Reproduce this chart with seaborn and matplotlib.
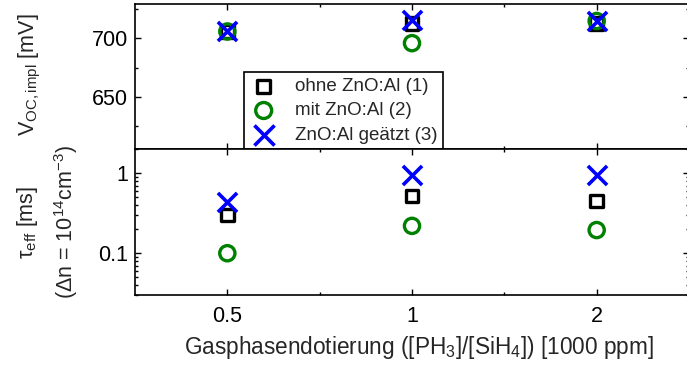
import numpy as np
import pandas as pd
import matplotlib
matplotlib.use("Agg")
import matplotlib.pyplot as plt
from matplotlib.ticker import FixedLocator, LogLocator, MultipleLocator, NullFormatter, FixedFormatter
import seaborn as sns

# Gas-phase doping [PH3]/[SiH4] in units of 1000 ppm
doping = [0.5, 1, 2]
dot_labels = ["0.5", "1", "2"]

series_names = ["ohne ZnO:Al (1)", "mit ZnO:Al (2)", "ZnO:Al geätzt (3)"]

# Implied open-circuit voltage [mV]
voc_ohne = [706, 713, 713]
voc_mit = [706, 696, 715]
voc_geaetzt = [706, 716, 715]

# Effective lifetime [ms] at Δn = 1e14 cm^-3
tau_ohne = [0.30, 0.52, 0.45]
tau_mit = [0.10, 0.22, 0.195]
tau_geaetzt = [0.44, 0.95, 0.95]

sns.set_theme(style="ticks")
plt.rcParams["font.family"] = ["Liberation Sans", "DejaVu Sans"]
plt.rcParams["mathtext.fontset"] = "custom"
plt.rcParams["mathtext.rm"] = "Liberation Sans"
plt.rcParams["mathtext.it"] = "Liberation Sans"
plt.rcParams["mathtext.default"] = "regular"

fig = plt.figure(figsize=(6.87, 3.65), dpi=100)
W, H = 687.0, 365.0
left, right = 135 / W, 689 / W
top_y, mid_y, bot_y = 1 - 3.5 / H, 1 - 149.3 / H, 1 - 295 / H
ax1 = fig.add_axes([left, mid_y, right - left, top_y - mid_y])
ax2 = fig.add_axes([left, bot_y, right - left, mid_y - bot_y])

styles = [
    dict(marker="s", color="black", s=80, lw=2.4),
    dict(marker="o", color="#008000", s=120, lw=2.4),
    dict(marker="x", color="#0000ff", s=190, lw=2.6),
]

def draw(ax, values):
    for name, vals, st in zip(series_names, values, styles):
        df = pd.DataFrame({"x": doping, "y": vals})
        if st["marker"] == "x":
            sns.scatterplot(data=df, x="x", y="y", ax=ax, marker="x", s=st["s"],
                            color=st["color"], linewidth=st["lw"], label=name,
                            legend=False, zorder=3)
        else:
            sns.scatterplot(data=df, x="x", y="y", ax=ax, marker=st["marker"], s=st["s"],
                            facecolor="none", edgecolor=st["color"], linewidth=st["lw"],
                            label=name, legend=False, zorder=3)

draw(ax1, [voc_ohne, voc_mit, voc_geaetzt])
draw(ax2, [tau_ohne, tau_mit, tau_geaetzt])

fs = 15.5
for ax in (ax1, ax2):
    ax.set_xscale("log", base=2)
    ax.set_xlim(0.5 / np.sqrt(2), 2 * np.sqrt(2))
    ax.xaxis.set_major_locator(FixedLocator(doping))
    ax.xaxis.set_minor_locator(FixedLocator([np.sqrt(0.5), np.sqrt(2)]))
    ax.xaxis.set_minor_formatter(NullFormatter())
    ax.tick_params(which="both", direction="in", top=True, right=True,
                   width=1.0, colors="black", labelsize=fs)
    ax.tick_params(which="major", length=4.5)
    ax.tick_params(which="minor", length=2.5)
    for sp in ax.spines.values():
        sp.set_linewidth(1.2)
        sp.set_color("black")
        sp.set_visible(True)
    ax.set_xlabel("")
    ax.set_ylabel("")

ax1.set_ylim(605, 730)
ax1.yaxis.set_major_locator(MultipleLocator(50))
ax1.yaxis.set_minor_locator(MultipleLocator(25))
ax1.tick_params(axis="x", labelbottom=False)
ax1.tick_params(axis="y", pad=5)

ax2.set_yscale("log")
ax2.set_ylim(0.03, 2.0)
ax2.yaxis.set_major_locator(FixedLocator([0.1, 1]))
ax2.yaxis.set_major_formatter(FixedFormatter(["0.1", "1"]))
ax2.yaxis.set_minor_locator(LogLocator(base=10, subs=np.arange(2, 10)))
ax2.yaxis.set_minor_formatter(NullFormatter())
ax2.xaxis.set_major_formatter(FixedFormatter(dot_labels))
ax2.tick_params(axis="x", pad=8)
ax2.tick_params(axis="y", pad=5)

ax2.set_xlabel("Gasphasendotierung ([PH$_3$]/[SiH$_4$]) [1000 ppm]", fontsize=16.3)
ax2.xaxis.set_label_coords((419 - 135) / 554, -0.27)

fig.text(30 / W, 1 - 75 / H, "V$_{OC,impl}$ [mV]", rotation=90, fontsize=fs,
         ha="center", va="center")
fig.text(28 / W, 1 - 222 / H, "τ$_{eff}$ [ms]", rotation=90, fontsize=fs,
         ha="center", va="center")
fig.text(66 / W, 1 - 222 / H, "(Δn = 10$^{14}$cm$^{-3}$)", rotation=90, fontsize=fs,
         ha="center", va="center")

handles, labels = ax1.get_legend_handles_labels()
leg = ax1.legend(handles, labels, loc="lower left",
                 bbox_to_anchor=((244 - 135) / 554, 0.0), fontsize=13.5,
                 frameon=True, fancybox=False, edgecolor="black", framealpha=1,
                 borderpad=0.3, labelspacing=0.38, handletextpad=0.9,
                 handlelength=1.5, borderaxespad=0, markerscale=1.05)
leg.get_frame().set_linewidth(1.2)
leg.set_zorder(2)

fig.savefig("out.png", dpi=100)
